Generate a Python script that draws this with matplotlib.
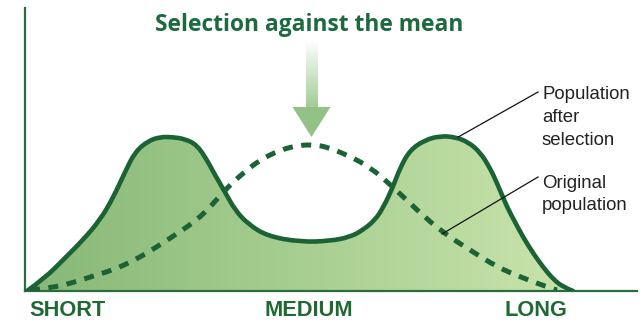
import numpy as np
import matplotlib
matplotlib.use("Agg")
import matplotlib.pyplot as plt
from matplotlib.colors import LinearSegmentedColormap
from matplotlib.patches import Polygon, PathPatch
from matplotlib.path import Path

# ---------------- data (trait value vs. frequency) ----------------
after_x = [2, 20, 40, 58, 75, 88, 100, 110, 123, 135, 147, 160, 172, 182, 190, 200, 210, 223,
           242, 275, 305, 325, 338, 350, 358, 368, 375, 385, 400, 415, 430, 443, 455, 465,
           472, 482, 490, 498, 508, 518, 528, 538, 548]
after_y = [0, 13, 33, 51, 71, 93, 119, 139, 150, 154, 154, 152, 146, 131, 116, 99, 81, 67,
           55, 49, 50, 54, 61, 71, 83, 104, 123, 141, 151, 155, 154, 149, 139, 123,
           108, 84, 69, 54, 38, 24, 12, 4, 0]

orig_x = [5, 25, 47, 65, 88, 110, 130, 150, 172, 187, 200, 218, 235, 255, 275, 290, 302, 322,
          345, 368, 392, 417, 445, 472, 498, 525, 532]
orig_y = [1, 3, 8, 14, 21, 31, 43, 56, 71, 86, 101, 118, 131, 141, 146, 146, 144, 136,
          124, 104, 81, 59, 41, 24, 13, 3, 1]

categories = ["SHORT", "MEDIUM", "LONG"]
category_x = [42, 284, 511]

title = "Selection against the mean"
label_after = ["Population", "after", "selection"]
label_orig = ["Original", "population"]

# ---------------- styling ----------------
W, H = 643, 326
DARK = "#1b6334"
TITLE_C = "#1d6a3f"
FILL_LEFT = "#86b877"
FILL_RIGHT = "#c9e4ac"
ARROW_C = "#93c286"


def smooth_path(xs, ys, close_to_base=False):
    """Quadratic B-spline style path: readings act as control points, drawn by matplotlib."""
    pts = list(zip(xs, ys))
    verts = [pts[0]]
    codes = [Path.MOVETO]
    for i in range(1, len(pts) - 1):
        mid = ((pts[i][0] + pts[i + 1][0]) / 2, (pts[i][1] + pts[i + 1][1]) / 2)
        if i == len(pts) - 2:
            mid = pts[i + 1]
        verts += [pts[i], mid]
        codes += [Path.CURVE3, Path.CURVE3]
    if close_to_base:
        verts += [(xs[-1], 0), (xs[0], 0), pts[0]]
        codes += [Path.LINETO, Path.LINETO, Path.CLOSEPOLY]
    return Path(verts, codes)


fig = plt.figure(figsize=(W / 100, H / 100), dpi=100)
fig.patch.set_facecolor("white")
ax = fig.add_axes([25 / W, 35 / H, 612 / W, 283 / H])

XMAX, YMAX = 612, 283

# gradient fill under the "after selection" curve
clip = PathPatch(smooth_path(after_x, after_y, close_to_base=True),
                 facecolor="none", edgecolor="none")
ax.add_patch(clip)
cmap = LinearSegmentedColormap.from_list("g", [FILL_LEFT, FILL_RIGHT])
grad = np.linspace(0, 1, 256).reshape(1, -1)
im = ax.imshow(grad, extent=[0, after_x[-1], 0, max(after_y) + 5], aspect="auto",
               cmap=cmap, origin="lower", zorder=1, interpolation="bilinear")
im.set_clip_path(clip)

# curves
ax.add_patch(PathPatch(smooth_path(after_x, after_y), facecolor="none", edgecolor=DARK,
                       lw=3.3, joinstyle="round", capstyle="round", zorder=3))
ax.add_patch(PathPatch(smooth_path(orig_x, orig_y), facecolor="none", edgecolor=DARK,
                       lw=3.6, linestyle=(0, (2.0, 1.7)), capstyle="butt", zorder=3))

# arrow pointing at the mean of the original population
peak_i = int(np.argmax(orig_y))
ax_c = (orig_x[peak_i] + orig_x[peak_i + 1]) / 2 + 4
tip = max(orig_y) + 8
head_h, head_w, shaft_w, shaft_top = 30, 38, 12, 251
shaft_cmap = LinearSegmentedColormap.from_list("s", ["#a3cb96", "#ffffff"])
sg = np.linspace(0, 1, 128).reshape(-1, 1)
ax.imshow(sg, extent=[ax_c - shaft_w / 2, ax_c + shaft_w / 2, tip + head_h, shaft_top],
          aspect="auto", cmap=shaft_cmap, origin="lower", zorder=2, interpolation="bilinear")
ax.add_patch(Polygon([[ax_c - head_w / 2, tip + head_h], [ax_c + head_w / 2, tip + head_h],
                      [ax_c, tip]], closed=True, facecolor=ARROW_C, edgecolor="none", zorder=2))

ax.set_xlim(0, XMAX)
ax.set_ylim(0, YMAX)

# axes
for s in ["top", "right"]:
    ax.spines[s].set_visible(False)
for s in ["left", "bottom"]:
    ax.spines[s].set_color("#2d6b40")
    ax.spines[s].set_linewidth(1.6)
ax.set_yticks([])
ax.set_xticks(category_x)
ax.set_xticklabels(categories)
ax.tick_params(axis="x", length=0, pad=6.5)
for t in ax.get_xticklabels():
    t.set_fontfamily(["Liberation Sans", "DejaVu Sans"])
    t.set_fontweight("bold")
    t.set_fontsize(15.5)
    t.set_color("#1f6a33")

# title
ttl = ax.text(284, 260, title, ha="center", va="baseline", fontsize=16,
              fontweight="bold", family=["Open Sans", "DejaVu Sans"], color=TITLE_C,
              clip_on=False)

# right-hand labels with leader lines
txt_kw = dict(ha="left", va="baseline", fontsize=13.5,
              family=["Liberation Sans", "DejaVu Sans"], color="#222222", clip_on=False)
texts = []
for i, s in enumerate(label_after):
    texts.append(ax.text(517, 192 - 23 * i, s, **txt_kw))
for i, s in enumerate(label_orig):
    texts.append(ax.text(517, 103 - 22 * i, s, **txt_kw))

ax.plot([433, 513], [np.interp(433, after_x, after_y) + 1, 199], color="#111111", lw=0.9,
        zorder=4, clip_on=False)
ax.plot([417, 513], [np.interp(417, orig_x, orig_y) - 2, 114], color="#111111", lw=0.9,
        zorder=4, clip_on=False)

# fit text widths to the reference
fig.canvas.draw()
r = fig.canvas.get_renderer()
def fit(t, target):
    w = t.get_window_extent(r).width
    t.set_fontsize(t.get_fontsize() * target / w)
fit(ttl, 308)
med = ax.get_xticklabels()[1]
w = med.get_window_extent(r).width
for t in ax.get_xticklabels():
    t.set_fontsize(t.get_fontsize() * 88 / w)
w = texts[0].get_window_extent(r).width
for t in texts:
    t.set_fontsize(t.get_fontsize() * 88 / w)

fig.savefig("out.png", dpi=100, facecolor="white")
